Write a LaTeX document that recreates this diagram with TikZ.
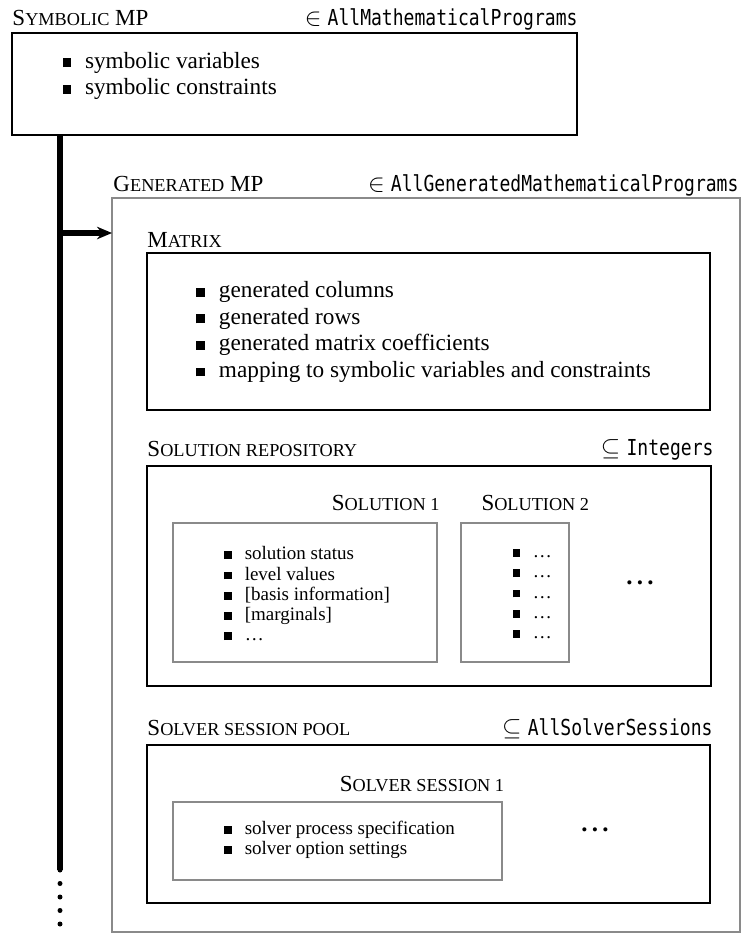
\documentclass[tikz,border=0pt]{standalone}
\usepackage{fontspec}
\setmainfont{Liberation Serif}
\newfontfamily\codefont{DejaVu Sans Mono}
\usetikzlibrary{arrows.meta,positioning}
\definecolor{boxgray}{HTML}{8A8A8A}
\newcommand{\sm}[1]{{\fontsize{7.3}{8}\selectfont\uppercase{#1}}}
\newcommand{\code}[1]{\scalebox{0.82}[1]{\codefont\fontsize{8.8}{10}\selectfont #1}}
\newcommand{\sq}{\rule[0.1ex]{3.5pt}{3.5pt}\hspace{5.5pt}}
\newcommand{\ssq}{\rule[0.1ex]{3.1pt}{3.1pt}\hspace{5pt}}

\begin{document}
\begin{tikzpicture}[x=0.4pt, y=-0.4pt]
      \useasboundingbox[fill=white] (0,0) rectangle (741,935);
      \begin{scope}[every node/.style={anchor=base west, inner sep=0pt, font=\fontsize{9.2}{11}\selectfont}]
          \node (symbtitle) at (12,25) {S\sm{ymbolic} MP};
          \node (gentitle) at (113,191) {G\sm{enerated} MP};
          \node (matrixtitle) at (147,247) {M\sm{atrix}};
          \node (repotitle) at (147,456) {S\sm{olution repository}};
          \node (sol2title) at (481,510) {S\sm{olution 2}};
          \node (pooltitle) at (147,735) {S\sm{olver session pool}};
          \node[anchor=base east] (sol1title) at (440,510) {S\sm{olution 1}};
          \node[anchor=base] (sess1title) at (422,791) {S\sm{olver session 1}};
      \end{scope}
      \begin{scope}[every node/.style={anchor=base east, inner sep=0pt}]
          \node (symbset) at (578,25) {$\in$\ \code{AllMathematicalPrograms}};
          \node (genset) at (739,191) {$\in$\ \code{AllGeneratedMathematicalPrograms}};
          \node (reposet) at (714,455) {$\subseteq$\ \code{Integers}};
          \node (poolset) at (713,735) {$\subseteq$\ \code{AllSolverSessions}};
      \end{scope}

      \begin{scope}[every node/.style={rectangle, anchor=north west, outer sep=0pt, inner sep=0pt, draw, line width=0.6pt}]
          \node[minimum width=226pt, minimum height=40.8pt] (symb) at (12,33) {};
          \node[draw=boxgray, minimum width=251.2pt, minimum height=293.6pt] (gen) at (112,198) {};
          \node[minimum width=225.2pt, minimum height=62.8pt] (matrix) at (147,253) {};
          \node[minimum width=225.6pt, minimum height=88pt] (repo) at (147,466) {};
          \node[draw=boxgray, minimum width=105.6pt, minimum height=55.6pt] (sol1) at (173,523) {};
          \node[draw=boxgray, minimum width=43.2pt, minimum height=55.6pt] (sol2) at (461,523) {};
          \node[minimum width=225.2pt, minimum height=63.2pt] (pool) at (147,745) {};
          \node[draw=boxgray, minimum width=131.6pt, minimum height=31.2pt] (sess1) at (173,802) {};
      \end{scope}

      \begin{scope}[every node/.style={anchor=west, align=left, inner sep=0pt, font=\fontsize{9.3}{10.6}\selectfont}]
          \node (symbitems) at (62,76) {\sq symbolic variables\\ \sq symbolic constraints};
          \node (matrixitems) at (196,332) {\sq generated columns\\ \sq generated rows\\
              \sq generated matrix coefficients\\ \sq mapping to symbolic variables and constraints};
      \end{scope}
      \begin{scope}[every node/.style={anchor=west, align=left, inner sep=0pt, font=\fontsize{7.6}{8.1}\selectfont}]
          \node (sol1items) at (224,594) {\ssq solution status\\ \ssq level values\\
              \ssq [basis information]\\ \ssq [marginals]\\ \ssq \ldots};
          \node (sol2items) at (512,594) {\ssq \ldots\\ \ssq \ldots\\ \ssq \ldots\\ \ssq \ldots\\ \ssq \ldots};
          \node (sess1items) at (224,840) {\ssq solver process specification\\ \ssq solver option settings};
      \end{scope}
      \node[font=\fontsize{10}{10}\bfseries] (repomore) at (640,583) {.\,.\,.};
      \node[font=\fontsize{10}{10}\bfseries] (poolmore) at (595,830) {.\,.\,.};

      \coordinate (fork) at (60,233);
      \coordinate (spinebot) at (60,870);
      \coordinate (spineend) at (60,935);
      \begin{scope}[>={Stealth[length=6pt, width=5pt]}, line width=2.4pt]
          \draw (symb.south -| fork) -- (spinebot);
          \path [->] (fork) edge (fork -| gen.west);
          \draw [line width=2pt, line cap=round, dash pattern=on 0pt off 5.4pt] (spinebot) -- (spineend);
      \end{scope}
\end{tikzpicture}
\end{document}
